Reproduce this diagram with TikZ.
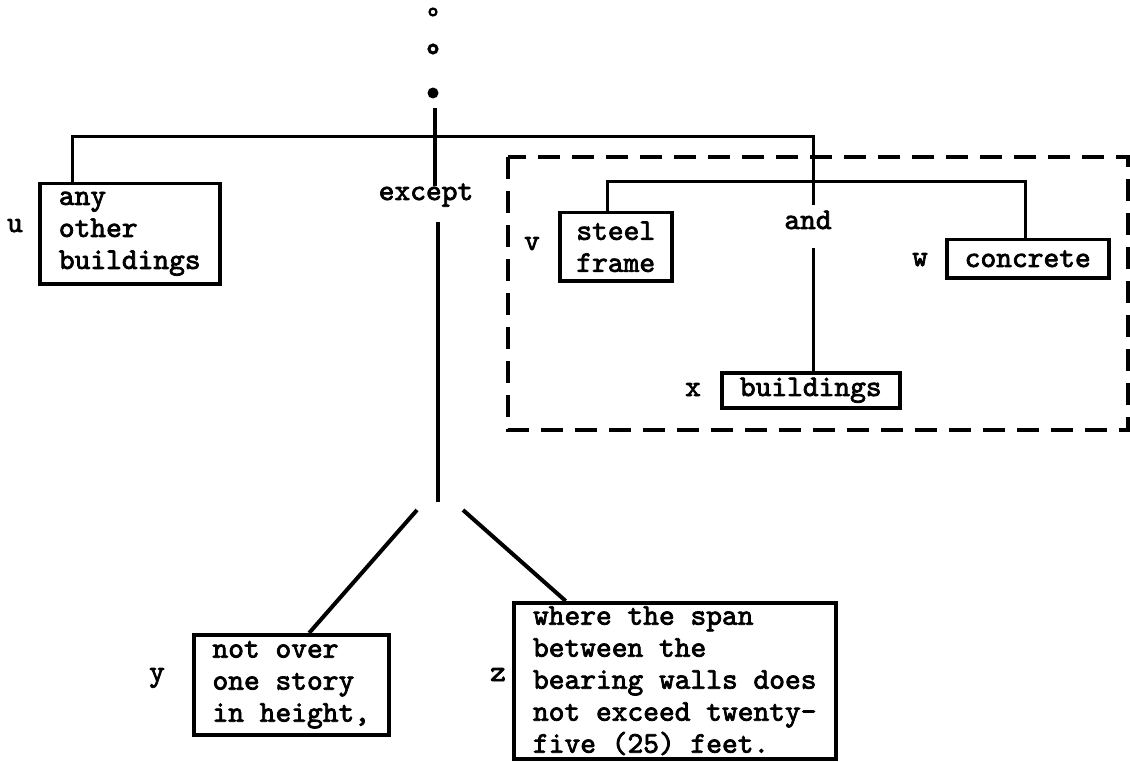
\documentclass[tikz,border=0pt]{standalone}
\usepackage{fontspec}
\usetikzlibrary{calc}
\newfontfamily\tw{lmmono10-regular.otf}[FakeBold=2.5]
\begin{document}
\begin{tikzpicture}[x=1pt,y=-1pt,
  txt/.style={font=\tw\fontsize{30}{32}\selectfont},
  lbl/.style={txt, inner sep=0pt, text height=14pt, text depth=4pt},
  box/.style={txt, draw, line width=3.5pt, anchor=north west, align=left, inner sep=0pt},
  tree/.style={line width=3pt},
  stem/.style={line width=4.5pt},
  diag/.style={line width=4pt},
  dashbox/.style={line width=3.5pt, dash pattern=on 22pt off 12pt},
  dotshape/.style={circle, inner sep=0pt}]
\useasboundingbox (0,0) rectangle (1130,762);
% dots
\node[dotshape, draw, line width=2.2pt, minimum size=7pt] (d1) at (433,12) {};
\node[dotshape, draw, line width=3pt, minimum size=8pt] (d2) at (433,49) {};
\node[dotshape, fill, minimum size=11pt] (d3) at (433,93) {};
% boxes
\node[box, minimum width=180pt, minimum height=100pt] (u) at (38,182) {any\\other\\buildings};
\node[box, minimum width=112pt, minimum height=68pt] (v) at (558,211) {steel\\frame};
\node[box, minimum width=162pt, minimum height=38pt] (w) at (945,238) {concrete};
\node[box, minimum width=178pt, minimum height=35pt] (xb) at (720,371) {buildings};
\node[box, minimum width=195pt, minimum height=100pt] (yb) at (192,633) {not over\\one story\\in height,};
\node[box, minimum width=322pt, minimum height=156pt] (zb) at (512,601) {where the span\\between the\\bearing walls does\\not exceed twenty-\\five (25) feet.};
% labels
\node[lbl] (lu) at (15,227) {u};
\node[lbl] (lv) at (532,245) {v};
\node[lbl] (lw) at (920,261) {w};
\node[lbl] (lx) at (693,391) {x};
\node[lbl] (ly) at (157,676) {y};
\node[lbl] (lz) at (498,676) {z};
\node[lbl] (ex) at (426,195) {except};
\node[lbl] (and) at (808,224) {and};
% dashed group
\draw[dashbox] (508,157) rectangle (1128,430);
% junctions
\coordinate (jU) at (72,137);
\coordinate (jAnd) at (813,137);
\coordinate (andTop) at (813,205);
\coordinate (andBot) at (813,248);
\coordinate (jV) at (607,182);
\coordinate (jW) at (1025,182);
\coordinate (exTop) at (435,108);
\coordinate (exBot) at (438,222);
\coordinate (fork) at (438,502);
\coordinate (fl) at (417,510);
\coordinate (fr) at (463,510);
% connectors
\draw[tree] (jU |- u.north) -- (jU) -- (jAnd) -- (andTop);
\draw[tree] (andBot) -- (andBot |- xb.north);
\draw[tree] (jV |- v.north) -- (jV) -- (jW) -- (jW |- w.north);
\draw[stem] (exTop) -- (exTop |- ex.north);
\draw[stem] (exBot) -- (fork);
\draw[diag] (fl) -- ($(yb.north west)!0.59!(yb.north east)$);
\draw[diag] (fr) -- ($(zb.north west)!0.165!(zb.north east)$);
\end{tikzpicture}
\end{document}
